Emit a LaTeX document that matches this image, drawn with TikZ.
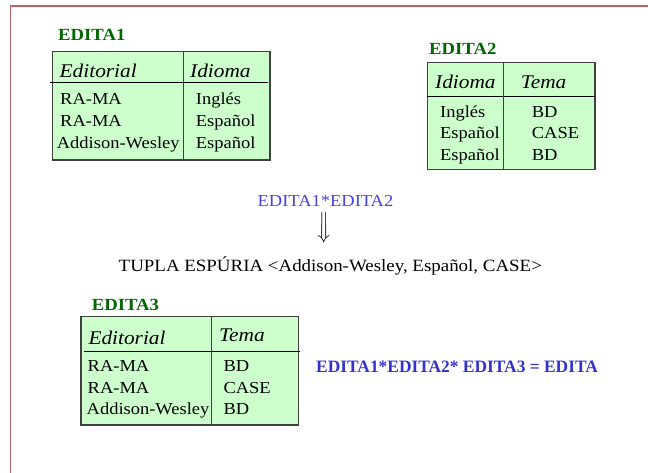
\documentclass[tikz,border=0pt]{standalone}
\usepackage{fontspec}
\setmainfont[FakeStretch=1.1]{Liberation Serif}
\newfontfamily\plainserif{Liberation Serif}
\definecolor{tblfill}{RGB}{204,255,204}
\definecolor{tblline}{RGB}{64,64,64}
\definecolor{lblgreen}{RGB}{0,102,0}
\definecolor{eqblue}{RGB}{51,51,204}
\definecolor{opblue}{RGB}{68,68,230}
\definecolor{framered}{RGB}{196,100,100}
\tikzset{
  frameline/.style={draw=framered, line width=1.6pt},
  tbl/.style={fill=tblfill, draw=tblline, line width=1.2pt},
  hdrline/.style={draw=black, line width=1pt},
  coldiv/.style={draw=tblline, line width=1pt},
  body/.style={anchor=base west, inner sep=0pt, font=\fontsize{16.8}{20}\selectfont},
  hdr/.style={anchor=base west, inner sep=0pt, font=\fontsize{19.4}{22}\selectfont\itshape},
  lbl/.style={anchor=base west, inner sep=0pt, text=lblgreen, font=\fontsize{17}{20}\selectfont\bfseries},
}
\begin{document}
\begin{tikzpicture}[x=1pt,y=-1pt]
\useasboundingbox (0,0) rectangle (648,473);
% frame
\draw[frameline] (10.6,473) -- (10.6,5.8) -- (648,5.8);

% EDITA1
\node[lbl] (l1) at (58,40.7) {EDITA1};
\draw[tbl] (52.5,51.7) rectangle (270,160);
\draw[hdrline] (50,82.3) -- (268.3,82.3);
\draw[coldiv] (183.3,51.7) -- (183.3,160);
\node[hdr] (a1) at (59.5,77.5) {Editorial};
\node[hdr] (a2) at (190,77.5) {Idioma};
\node[body] (a3) at (60,104.5) {RA-MA};
\node[body] (a4) at (60,126.5) {RA-MA};
\node[body] (a5) at (56.7,148.5) {Addison-Wesley};
\node[body] (a6) at (195.7,104.5) {Inglés};
\node[body] (a7) at (195.7,126.5) {Español};
\node[body] (a8) at (195.7,148.5) {Español};

% EDITA2
\node[lbl] (l2) at (429,55) {EDITA2};
\draw[tbl] (427.3,62.3) rectangle (595,169.3);
\draw[hdrline] (427.3,96.7) -- (595,96.7);
\draw[coldiv] (503.7,62.3) -- (503.7,169.3);
\node[hdr] (b1) at (435,89) {Idioma};
\node[hdr] (b2) at (520.7,89) {Tema};
\node[body] (b3) at (440,117.3) {Inglés};
\node[body] (b4) at (440,138.8) {Español};
\node[body] (b5) at (440,160.2) {Español};
\node[body] (b6) at (531.7,117.3) {BD};
\node[body] (b7) at (531.7,138.8) {CASE};
\node[body] (b8) at (531.7,160.2) {BD};

% join
\node[body, text=opblue] (op) at (257.5,206.7) {EDITA1*EDITA2};
\node[rotate=-90, inner sep=0pt, font=\fontsize{20}{22}\selectfont] (arr) at (322.5,228) {$\Longrightarrow$};
\node[body, font=\fontsize{17.2}{20}\selectfont] (tup) at (118.5,271.7) {TUPLA ESPÚRIA <Addison-Wesley, Español, CASE>};

% EDITA3
\node[lbl] (l3) at (91.7,310.7) {EDITA3};
\draw[tbl] (81,316.7) rectangle (298.3,425);
\draw[hdrline] (84,351.7) -- (300.4,351.7);
\draw[coldiv] (211.7,316.7) -- (211.7,425);
\node[hdr] (c1) at (88.3,344) {Editorial};
\node[hdr] (c2) at (219,341.7) {Tema};
\node[body] (c3) at (87.5,371.7) {RA-MA};
\node[body] (c4) at (87.5,393) {RA-MA};
\node[body] (c5) at (86.5,414.5) {Addison-Wesley};
\node[body] (c6) at (223.3,371.7) {BD};
\node[body] (c7) at (223.3,393) {CASE};
\node[body] (c8) at (223.3,414.5) {BD};

% result
\node[anchor=base west, inner sep=0pt, text=eqblue, font=\plainserif\fontsize{17.4}{20}\selectfont\bfseries] (eq) at (316,372.7) {EDITA1*EDITA2* EDITA3 = EDITA};
\end{tikzpicture}
\end{document}
